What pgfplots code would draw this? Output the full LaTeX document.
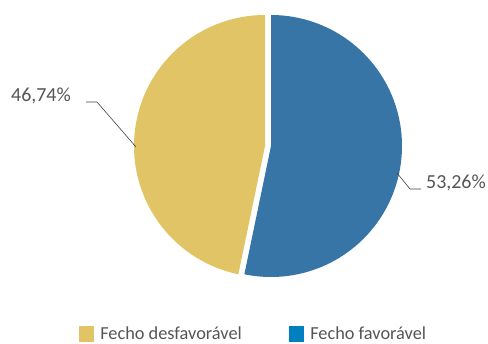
\documentclass[border=0pt]{standalone}
\usepackage{pgfplots}
\pgfplotsset{compat=1.18}
\usepackage{fontspec}
\setmainfont{Carlito}
\definecolor{pieblue}{HTML}{3775A7}
\definecolor{pieyellow}{HTML}{E0C466}
\definecolor{legblue}{HTML}{0080C0}
\definecolor{txtgray}{HTML}{555555}
\def\vFav{53.26}
\def\vDes{46.74}
\begin{document}
\begin{tikzpicture}
\begin{axis}[
  width=488bp, height=344bp, scale only axis,
  xmin=0, xmax=488, ymin=0, ymax=344,
  hide axis, clip=false,
  legend style={at={(axis cs:253.5,10.5)}, anchor=center, draw=none, fill=none,
    legend columns=2, font=\fontsize{18.4}{20}\selectfont, text=txtgray,
    inner sep=0pt,
    /tikz/every even column/.append style={column sep=45bp}},
  legend cell align=left,
]
% slices
\addplot[draw=none, fill=pieblue, domain={90-3.6*\vFav}:90, samples=150, variable=\t, forget plot]
  ({271+131*cos(t)},{198+131*sin(t)}) -- (axis cs:271,198) -- cycle;
\addplot[draw=none, fill=pieyellow, domain=90:{90+3.6*\vDes}, samples=150, variable=\t, forget plot]
  ({265+131*cos(t)},{198+131*sin(t)}) -- (axis cs:265,198) -- cycle;
% leader lines
\addplot[draw=black!75, line width=0.6pt, forget plot] coordinates {(86,242) (97,242) (136,197)};
\addplot[draw=black!75, line width=0.6pt, forget plot] coordinates {(397,171) (410,155) (421,155)};
\node[anchor=base east, inner sep=0pt, text=txtgray, font=\fontsize{20}{24}\selectfont] at (axis cs:71,242) {46,74\%};
\node[anchor=base west, inner sep=0pt, text=txtgray, font=\fontsize{20}{24}\selectfont] at (axis cs:426,155) {53,26\%};
% legend
\addlegendimage{legend image code/.code={\fill[pieyellow] (0bp,-7.5bp) rectangle (14bp,7.5bp); \path (19bp,0bp);}}
\addlegendentry{Fecho desfavorável}
\addlegendimage{legend image code/.code={\fill[legblue] (0bp,-7.5bp) rectangle (14bp,7.5bp); \path (19bp,0bp);}}
\addlegendentry{Fecho favorável}
\end{axis}
\path (current axis.south west) (current axis.north east);
\end{tikzpicture}
\end{document}
